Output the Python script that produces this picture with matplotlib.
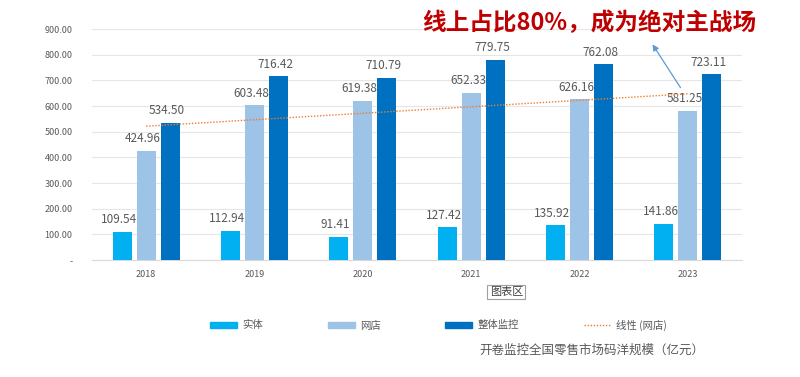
import numpy as np
import matplotlib
matplotlib.use("Agg")
import matplotlib.pyplot as plt
from matplotlib.patches import Patch
from matplotlib.lines import Line2D

plt.rcParams['font.family'] = ['Noto Sans CJK SC', 'DejaVu Sans']

years = ['2018', '2019', '2020', '2021', '2022', '2023']
shiti = [109.54, 112.94, 91.41, 127.42, 135.92, 141.86]
wangdian = [424.96, 603.48, 619.38, 652.33, 626.16, 581.25]
zhengti = [534.50, 716.42, 710.79, 779.75, 762.08, 723.11]
yticks = [0, 100, 200, 300, 400, 500, 600, 700, 800, 900]

c_shiti = '#00B0F0'
c_wang = '#9DC3E6'
c_zheng = '#0070C0'
c_trend = '#ED7D31'
c_text = '#595959'

fig = plt.figure(figsize=(8, 3.77), dpi=100)
ax = fig.add_axes([0.115, 0.31, 0.8125, 0.613])

x = np.arange(len(years))
w = 0.176
off = 0.222
series = [(shiti, c_shiti, -off), (wangdian, c_wang, 0), (zhengti, c_zheng, off)]
for vals, col, dx in series:
    bars = ax.bar(x + dx, vals, width=w, color=col, zorder=3)
    for b, v in zip(bars, vals):
        ax.text(b.get_x() + b.get_width() / 2 - 0.03, v + 22, f'{v:.2f}',
                ha='center', va='bottom', fontsize=8.5, color=c_text, zorder=4)

# linear trend of 网店
k, b0 = np.polyfit(x, wangdian, 1)
ax.plot(x, k * x + b0, linestyle=(0, (1, 1.2)), color=c_trend, lw=1.0, zorder=5)

ax.set_xlim(-0.5, len(years) - 0.5)
ax.set_ylim(0, 900)
ax.set_yticks(yticks)
ax.set_yticklabels(['-' if t == 0 else f'{t:.2f}' for t in yticks])
ax.set_xticks(x)
ax.set_xticklabels(years)
ax.tick_params(axis='both', length=0, labelsize=6.5, colors=c_text)
ax.tick_params(axis='x', pad=7)
ax.tick_params(axis='y', pad=14)
ax.grid(axis='y', color='#E6E6E6', lw=0.8, zorder=0)
for s in ['top', 'right', 'left']:
    ax.spines[s].set_visible(False)
ax.spines['bottom'].set_color('#D9D9D9')

handles = [Patch(color=c_shiti), Patch(color=c_wang), Patch(color=c_zheng),
           Line2D([0], [0], color=c_trend, lw=1, linestyle=(0, (1, 1.2)))]
labels = ['实体', '网店', '整体监控', '线性 (网店)']
fig.legend(handles, labels, loc='center', bbox_to_anchor=(0.548, 0.138), ncol=4,
           frameon=False, fontsize=7.5, handlelength=2.6, handleheight=0.45,
           columnspacing=6.2, handletextpad=0.5, labelcolor=c_text)

fig.text(0.74, 0.072, '开卷监控全国零售市场码洋规模（亿元）', ha='center', va='center',
         fontsize=9, color=c_text)

fig.text(0.633, 0.226, '图表区', ha='center', va='center', fontsize=8, color='#404040',
         bbox=dict(boxstyle='square,pad=0.2', fc='white', ec='#A0A0A0', lw=0.8))

fig.text(0.737, 0.94, '线上占比80%，成为绝对主战场', ha='center', va='center',
         fontsize=17, fontweight='bold', color='#C00000')

ax.annotate('', xy=(651 / 800, 1 - 42 / 377), xytext=(682 / 800, 1 - 90 / 377),
            xycoords='figure fraction', textcoords='figure fraction',
            arrowprops=dict(arrowstyle='-|>', color='#5B9BD5', lw=0.9, mutation_scale=9))

fig.savefig('out.png', dpi=100, facecolor='white')
